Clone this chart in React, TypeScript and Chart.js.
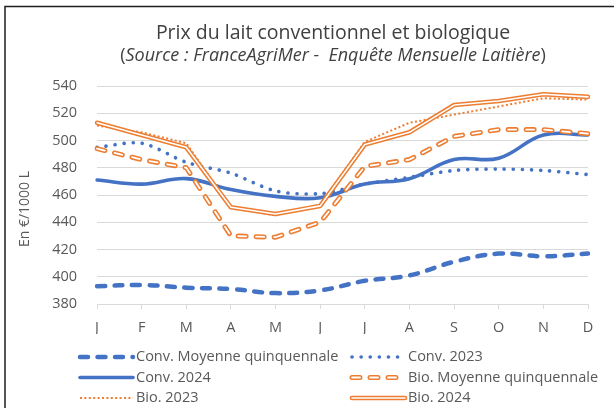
import React, { useEffect, useRef } from 'react';
import { Chart, registerables } from 'chart.js';

Chart.register(...registerables);

// ---------- data ----------
const months = ['J', 'F', 'M', 'A', 'M', 'J', 'J', 'A', 'S', 'O', 'N', 'D'];
const convMoy = [393, 394, 392, 391, 388, 390, 397, 401, 411, 417, 415, 417];
const conv2023 = [495, 498, 484, 476, 463, 461, 468, 473, 478, 479, 478, 475];
const conv2024 = [471, 468, 472, 464, 459, 458, 468, 472, 486, 487, 504, 504];
const bioMoy = [494, 486, 480, 430, 429, 440, 481, 486, 503, 508, 508, 505];
const bio2023 = [511, 506, 498, 451, 445, 453, 499, 513, 519, 525, 531, 530];
const bio2024 = [513, 504, 495, 451, 446, 452, 497, 506, 526, 529, 534, 532];
const seriesNames = [
  'Conv. Moyenne quinquennale',
  'Conv. 2023',
  'Conv. 2024',
  'Bio. Moyenne quinquennale',
  'Bio. 2023',
  'Bio. 2024',
];
const yMin = 380;
const yMax = 540;
const yStep = 20;
const titleText = 'Prix du lait conventionnel et biologique';
const subtitleOpen = '(';
const subtitleItalic = 'Source : FranceAgriMer -  Enquête Mensuelle Laitière';
const subtitleClose = ')';
const yTitle = 'En €/1000 L';

// ---------- styles ----------
const BLUE = '#4472C4';
const ORANGE = '#ED7D31';
const FONT = "'Open Sans', sans-serif";

type Style = {
  color: string;
  width: number;
  dash: number[];
  cap: CanvasLineCap;
  tension: number;
  inner?: number;
};

const styles: Style[] = [
  { color: BLUE, width: 4.5, dash: [8, 9.5], cap: 'round', tension: 0.4 },
  { color: BLUE, width: 3.6, dash: [0.1, 9], cap: 'round', tension: 0.3 },
  { color: BLUE, width: 3.6, dash: [], cap: 'round', tension: 0.4 },
  { color: ORANGE, width: 5, dash: [8, 10], cap: 'round', tension: 0, inner: 1.8 },
  { color: ORANGE, width: 2, dash: [2, 2.4], cap: 'butt', tension: 0 },
  { color: ORANGE, width: 4.6, dash: [], cap: 'round', tension: 0, inner: 1.6 },
];

const seriesData = [convMoy, conv2023, conv2024, bioMoy, bio2023, bio2024];

const titlePlugin = {
  id: 'customTexts',
  afterDraw(chart: any) {
    const ctx: CanvasRenderingContext2D = chart.ctx;
    ctx.save();
    // frame
    ctx.strokeStyle = '#1e1e1e';
    ctx.lineWidth = 1.5;
    ctx.beginPath();
    ctx.moveTo(5, 408);
    ctx.lineTo(5, 6.5);
    ctx.lineTo(614, 6.5);
    ctx.stroke();

    // title
    const cx = 333;
    ctx.fillStyle = '#404040';
    ctx.textBaseline = 'middle';
    ctx.textAlign = 'center';
    ctx.font = `19.5px ${FONT}`;
    ctx.fillText(titleText, cx, 33);

    // subtitle (mixed)
    const fNormal = `18px ${FONT}`;
    const fItalic = `italic 18px ${FONT}`;
    ctx.font = fNormal;
    const w1 = ctx.measureText(subtitleOpen).width;
    const w3 = ctx.measureText(subtitleClose).width;
    ctx.font = fItalic;
    const w2 = ctx.measureText(subtitleItalic).width;
    let x = cx - (w1 + w2 + w3) / 2;
    ctx.textAlign = 'left';
    ctx.font = fNormal;
    ctx.fillText(subtitleOpen, x, 55.5);
    x += w1;
    ctx.font = fItalic;
    ctx.fillText(subtitleItalic, x, 55.5);
    x += w2;
    ctx.font = fNormal;
    ctx.fillText(subtitleClose, x, 55.5);

    // y title
    ctx.save();
    ctx.translate(25, 209);
    ctx.rotate(-Math.PI / 2);
    ctx.textAlign = 'center';
    ctx.font = `14px ${FONT}`;
    ctx.fillStyle = '#595959';
    ctx.fillText(yTitle, 0, 0);
    ctx.restore();

    // legend
    const cols = [
      { x1: 80, x2: 133, tx: 136 },
      { x1: 352, x2: 405, tx: 408 },
    ];
    const rows = [357, 377.5, 398];
    seriesNames.forEach((name, i) => {
      const c = cols[i % 2];
      const y = rows[Math.floor(i / 2)];
      const st = styles[i];
      const drawLine = (color: string, width: number) => {
        ctx.beginPath();
        ctx.strokeStyle = color;
        ctx.lineWidth = width;
        ctx.lineCap = st.cap;
        ctx.setLineDash(st.dash);
        ctx.moveTo(c.x1, y);
        ctx.lineTo(c.x2, y);
        ctx.stroke();
      };
      drawLine(st.color, st.width);
      if (st.inner) drawLine('#ffffff', st.inner);
      ctx.setLineDash([]);
      ctx.fillStyle = '#595959';
      ctx.font = `14.5px ${FONT}`;
      ctx.textAlign = 'left';
      ctx.textBaseline = 'middle';
      ctx.fillText(name, c.tx, y);
    });
    ctx.restore();
  },
};

export default function App() {
  const ref = useRef<HTMLCanvasElement>(null);

  useEffect(() => {
    if (!ref.current) return;
    const datasets: any[] = [];
    let order = 100;
    seriesNames.forEach((name, i) => {
      const st = styles[i];
      datasets.push({
        label: name,
        data: seriesData[i],
        borderColor: st.color,
        borderWidth: st.width,
        borderDash: st.dash,
        borderCapStyle: st.cap,
        borderJoinStyle: 'round',
        tension: st.tension,
        pointRadius: 0,
        fill: false,
        order: order--,
      });
      if (st.inner) {
        datasets.push({
          label: name + ' ',
          data: seriesData[i],
          borderColor: '#ffffff',
          borderWidth: st.inner,
          borderDash: st.dash,
          borderCapStyle: st.cap,
          borderJoinStyle: 'round',
          tension: st.tension,
          pointRadius: 0,
          fill: false,
          order: order--,
        });
      }
    });

    const chart = new Chart(ref.current, {
      type: 'line',
      data: { labels: months, datasets },
      options: {
        responsive: false,
        animation: false,
        events: [],
        layout: { padding: { top: 86, right: 26, bottom: 74, left: 0 } },
        plugins: {
          legend: { display: false },
          title: { display: false },
          tooltip: { enabled: false },
        },
        scales: {
          x: {
            offset: false,
            grid: {
              display: true,
              drawOnChartArea: false,
              drawTicks: true,
              tickLength: 5,
              color: '#d9d9d9',
            },
            border: { display: true, color: '#d9d9d9' },
            ticks: {
              color: '#595959',
              font: { family: FONT, size: 14.5 },
              padding: 10,
              maxRotation: 0,
              autoSkip: false,
            },
            afterFit: (s: any) => {
              s.height = 30;
            },
          },
          y: {
            min: yMin,
            max: yMax,
            ticks: {
              stepSize: yStep,
              color: '#595959',
              font: { family: FONT, size: 14.5 },
              padding: 20,
            },
            grid: { color: '#d9d9d9', drawTicks: false },
            border: { display: false },
            afterFit: (s: any) => {
              s.width = 97;
            },
          },
        },
      },
      plugins: [titlePlugin],
    });
    return () => chart.destroy();
  }, []);

  return (
    <div style={{ position: 'absolute', left: 0, top: 0, width: 614, height: 408, background: '#fff' }}>
      <canvas ref={ref} width={614} height={408} style={{ display: 'block' }} />
    </div>
  );
}
